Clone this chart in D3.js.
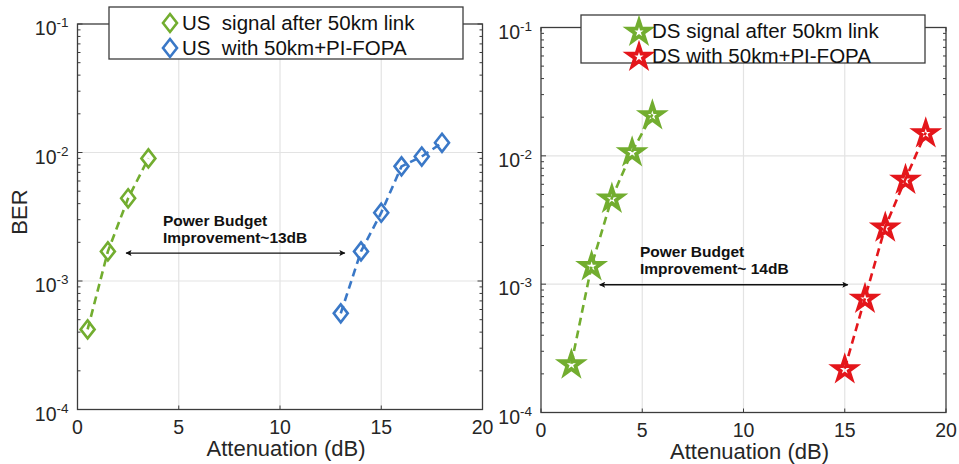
<!DOCTYPE html>
<html>
<head>
<meta charset="utf-8">
<script src="https://cdn.jsdelivr.net/npm/d3@7"></script>
<style>
  body { margin: 0; background: #fff; }
  text { font-family: "Liberation Sans", Arial, Helvetica, sans-serif; }
</style>
</head>
<body>
<div id="chart"></div>
<script>
// ---- data ----
var xTicks = [0, 5, 10, 15, 20];
var yTicks = [1e-4, 1e-3, 1e-2, 1e-1];
var yTickExp = ["-4", "-3", "-2", "-1"];

var usSignalX = [0.5, 1.5, 2.5, 3.5];
var usSignalBER = [4.2e-4, 1.7e-3, 4.4e-3, 9.0e-3];
var usFopaX = [13, 14, 15, 16, 17, 18];
var usFopaBER = [5.6e-4, 1.7e-3, 3.4e-3, 7.8e-3, 9.3e-3, 1.19e-2];

var dsSignalX = [1.5, 2.5, 3.5, 4.5, 5.5];
var dsSignalBER = [2.4e-4, 1.4e-3, 4.7e-3, 1.08e-2, 2.1e-2];
var dsFopaX = [15, 16, 17, 18, 19];
var dsFopaBER = [2.2e-4, 7.8e-4, 2.8e-3, 6.6e-3, 1.52e-2];

var usArrowX = [2.4, 13.2], usArrowY = 1.65e-3;
var dsArrowX = [2.9, 15.15], dsArrowY = 9.9e-4;

var GREEN = "#72ad2f", BLUE = "#3a78c7", RED = "#e4161b";

var svg = d3.select("#chart").append("svg")
    .attr("width", 959)
    .attr("height", 464);

// arrow heads
var defs = svg.append("defs");
["start", "end"].forEach(function (k) {
    defs.append("marker")
        .attr("id", "ah-" + k)
        .attr("viewBox", "0 0 10 10")
        .attr("refX", k == "end" ? 9 : 1).attr("refY", 5)
        .attr("markerWidth", 8).attr("markerHeight", 6)
        .attr("markerUnits", "userSpaceOnUse")
        .attr("orient", "auto")
        .append("path")
        .attr("d", k == "end" ? "M0,0L10,5L0,10L2,5Z" : "M10,0L0,5L10,10L8,5Z")
        .attr("fill", "#111");
});

function diamondPath(cx, cy) {
    return "M" + cx + "," + (cy - 9) + "L" + (cx + 7) + "," + cy +
        "L" + cx + "," + (cy + 9) + "L" + (cx - 7) + "," + cy + "Z";
}
var starSym = d3.symbol().type(d3.symbolStar).size(140);

function drawMarker(g, kind, cx, cy, color) {
    if (kind == "diamond") {
        g.append("path").attr("d", diamondPath(cx, cy))
            .attr("fill", "none").attr("stroke", color).attr("stroke-width", 2.6)
            .attr("stroke-linejoin", "miter");
    } else {
        g.append("path").attr("d", starSym())
            .attr("transform", "translate(" + cx + "," + (cy + 1) + ")")
            .attr("fill", "none").attr("stroke", color).attr("stroke-width", 3.8)
            .attr("stroke-linejoin", "miter");
    }
}

function drawPanel(p) {
    var x = d3.scaleLinear().domain([0, 20]).range([p.left, p.right]);
    var y = d3.scaleLog().domain([1e-4, 1e-1]).range([p.bottom, p.top]);
    var g = svg.append("g");

    // grid
    g.selectAll(".gx").data(xTicks.slice(1, -1)).enter().append("line")
        .attr("x1", d => x(d)).attr("x2", d => x(d))
        .attr("y1", p.top).attr("y2", p.bottom)
        .attr("stroke", "#e3e3e3").attr("stroke-width", 1.2);
    g.selectAll(".gy").data(yTicks.slice(1, -1)).enter().append("line")
        .attr("x1", p.left).attr("x2", p.right)
        .attr("y1", d => y(d)).attr("y2", d => y(d))
        .attr("stroke", "#e3e3e3").attr("stroke-width", 1.2);

    // box
    g.append("rect").attr("x", p.left).attr("y", p.top)
        .attr("width", p.right - p.left).attr("height", p.bottom - p.top)
        .attr("fill", "none").attr("stroke", "#3c3c3c").attr("stroke-width", 1.3);

    // x ticks (bottom + top)
    xTicks.forEach(function (t) {
        g.append("line").attr("x1", x(t)).attr("x2", x(t))
            .attr("y1", p.bottom).attr("y2", p.bottom - 4)
            .attr("stroke", "#3c3c3c");
        g.append("line").attr("x1", x(t)).attr("x2", x(t))
            .attr("y1", p.top).attr("y2", p.top + 4)
            .attr("stroke", "#3c3c3c");
        g.append("text").attr("x", x(t)).attr("y", p.bottom + 24)
            .attr("text-anchor", "middle").attr("font-size", 19.5)
            .attr("fill", "#262626").text(t);
    });

    // y ticks, major + log minor
    var minor = [];
    yTicks.forEach(function (t, i) {
        if (i < yTicks.length - 1) {
            for (var m = 2; m <= 9; m++) minor.push(t * m);
        }
    });
    yTicks.forEach(function (t, i) {
        [p.left, p.right].forEach(function (edge, j) {
            var dir = j == 0 ? 1 : -1;
            g.append("line").attr("x1", edge).attr("x2", edge + dir * 5)
                .attr("y1", y(t)).attr("y2", y(t)).attr("stroke", "#3c3c3c");
        });
        var lab = g.append("text").attr("x", p.left - 9).attr("y", y(t) + 11)
            .attr("text-anchor", "end").attr("fill", "#262626");
        lab.append("tspan").attr("font-size", 19.5).text("10");
        lab.append("tspan").attr("font-size", 13.5).attr("dy", -8).text(yTickExp[i]);
    });
    minor.forEach(function (t) {
        [p.left, p.right].forEach(function (edge, j) {
            var dir = j == 0 ? 1 : -1;
            g.append("line").attr("x1", edge).attr("x2", edge + dir * 3)
                .attr("y1", y(t)).attr("y2", y(t)).attr("stroke", "#3c3c3c");
        });
    });

    // x label
    g.append("text").attr("x", (p.left + p.right) / 2 + 6).attr("y", p.bottom + 46)
        .attr("text-anchor", "middle").attr("font-size", 22)
        .attr("fill", "#262626").text("Attenuation (dB)");

    // series
    var line = d3.line().x(d => x(d[0])).y(d => y(d[1]));
    p.series.forEach(function (s) {
        var pts = s.xs.map((v, i) => [v, s.ys[i]]);
        g.append("path").datum(pts).attr("d", line)
            .attr("fill", "none").attr("stroke", s.color)
            .attr("stroke-width", 2.6).attr("stroke-dasharray", "8,5");
        pts.forEach(function (d) {
            drawMarker(g, p.marker, x(d[0]), y(d[1]), s.color);
        });
    });

    // arrow + annotation
    g.append("line")
        .attr("x1", x(p.arrowX[0])).attr("x2", x(p.arrowX[1]))
        .attr("y1", y(p.arrowY)).attr("y2", y(p.arrowY))
        .attr("stroke", "#111").attr("stroke-width", 1.3)
        .attr("marker-start", "url(#ah-start)").attr("marker-end", "url(#ah-end)");
    p.note.forEach(function (t, i) {
        g.append("text").attr("x", p.noteX).attr("y", p.noteY + i * 17)
            .attr("font-size", 15.5).attr("font-weight", "bold")
            .attr("fill", "#111").text(t);
    });

    // legend
    var lg = g.append("g");
    lg.append("rect").attr("x", p.legend.x).attr("y", p.legend.y)
        .attr("width", p.legend.w).attr("height", p.legend.h)
        .attr("fill", "#fff").attr("stroke", "#3c3c3c").attr("stroke-width", 1.3);
    p.series.forEach(function (s, i) {
        var cy = p.legend.y + 16 + i * 25;
        drawMarker(lg, p.marker, p.legend.mx, cy, s.color);
        lg.append("text").attr("x", p.legend.tx).attr("y", cy + 7)
            .attr("font-size", 20.5).attr("fill", "#111")
            .style("white-space", "pre").attr("xml:space", "preserve")
            .text(s.name);
    });
}

drawPanel({
    left: 77.5, right: 482.5, top: 24, bottom: 409.5,
    marker: "diamond",
    series: [
        { name: "US  signal after 50km link", xs: usSignalX, ys: usSignalBER, color: GREEN },
        { name: "US  with 50km+PI-FOPA", xs: usFopaX, ys: usFopaBER, color: BLUE }
    ],
    arrowX: usArrowX, arrowY: usArrowY,
    note: ["Power Budget", "Improvement~13dB"], noteX: 163, noteY: 226,
    legend: { x: 109, y: 7, w: 354, h: 52, mx: 170, tx: 182 }
});

drawPanel({
    left: 541, right: 946, top: 27.5, bottom: 412.5,
    marker: "star",
    series: [
        { name: "DS signal after 50km link", xs: dsSignalX, ys: dsSignalBER, color: GREEN },
        { name: "DS with 50km+PI-FOPA", xs: dsFopaX, ys: dsFopaBER, color: RED }
    ],
    arrowX: dsArrowX, arrowY: dsArrowY,
    note: ["Power Budget", "Improvement~ 14dB"], noteX: 640, noteY: 257,
    legend: { x: 581, y: 15, w: 344, h: 48, mx: 639, tx: 652 }
});

// y label (left only)
svg.append("text")
    .attr("transform", "translate(27,212) rotate(-90)")
    .attr("text-anchor", "middle").attr("font-size", 22)
    .attr("fill", "#262626").text("BER");
</script>
</body>
</html>
